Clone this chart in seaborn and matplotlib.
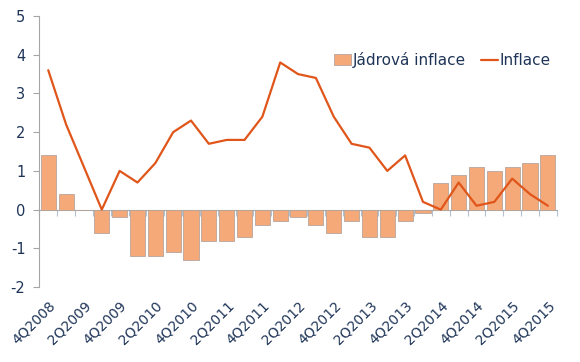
import numpy as np
import pandas as pd
import matplotlib
matplotlib.use("Agg")
import matplotlib.pyplot as plt
import seaborn as sns

# quarters 4Q2008 .. 4Q2015
periods = pd.period_range("2008Q4", "2015Q4", freq="Q")
quarters = [f"{p.quarter}Q{p.year}" for p in periods]

core_inflation = [1.4, 0.4, 0.0, -0.6, -0.2, -1.2, -1.2, -1.1, -1.3, -0.8,
                  -0.8, -0.7, -0.4, -0.3, -0.2, -0.4, -0.6, -0.3, -0.7, -0.7,
                  -0.3, -0.1, 0.7, 0.9, 1.1, 1.0, 1.1, 1.2, 1.4]
inflation = [3.6, 2.2, 1.1, 0.0, 1.0, 0.7, 1.2, 2.0, 2.3, 1.7,
             1.8, 1.8, 2.4, 3.8, 3.5, 3.4, 2.4, 1.7, 1.6, 1.0,
             1.4, 0.2, 0.0, 0.7, 0.1, 0.2, 0.8, 0.4, 0.1]

y_ticks = [-2, -1, 0, 1, 2, 3, 4, 5]

bar_color = "#F5A878"
line_color = "#E0561A"
text_color = "#1F3558"
axis_color = "#A6A6A6"

df = pd.DataFrame({
    "quarter": quarters,
    "pos": np.arange(len(quarters)),
    "core": core_inflation,
    "infl": inflation,
})

sns.set_style("white")
plt.rcParams["font.family"] = ["DejaVu Sans"]

fig = plt.figure(figsize=(5.8, 3.62), dpi=100)
ax = fig.add_axes([0.0678, 0.207, 0.8922, 0.7488])

sns.barplot(data=df, x="quarter", y="core", color=bar_color, saturation=1,
            width=0.85, edgecolor="#B5A59C", linewidth=0.6,
            label="Jádrová inflace", ax=ax)
sns.lineplot(data=df, x="pos", y="infl", color=line_color, linewidth=1.6,
             label="Inflace", ax=ax)

n = len(quarters)
ax.set_xlim(-0.5, n - 0.5)
ax.set_ylim(-2, 5)
ax.set_yticks(y_ticks)
ax.set_yticklabels([str(t) for t in y_ticks], color=text_color, fontsize=10.5)
ax.tick_params(axis="y", direction="out", length=4, color=axis_color,
               width=0.8, pad=6, left=True)

ax.set_xticks(df["pos"][::2])
ax.set_xticklabels(df["quarter"][::2], rotation=45, ha="right",
                   rotation_mode="anchor", color=text_color, fontsize=10)
ax.tick_params(axis="x", length=0, pad=8)
ax.set_xlabel("")
ax.set_ylabel("")

for side in ["top", "right", "bottom"]:
    ax.spines[side].set_visible(False)
ax.spines["left"].set_color(axis_color)
ax.spines["left"].set_linewidth(0.8)

# zero line with category boundary ticks
zero_axis = ax.secondary_xaxis(2 / 7)
zero_axis.set_xticks(np.arange(n + 1) - 0.5)
zero_axis.set_xticklabels([])
zero_axis.tick_params(length=4, color="#B4C0D0", width=0.8, direction="out")
zero_axis.spines["bottom"].set_color(axis_color)
zero_axis.spines["bottom"].set_linewidth(0.8)

handles, labels = ax.get_legend_handles_labels()
order = [labels.index("Jádrová inflace"), labels.index("Inflace")]
leg = ax.legend([handles[i] for i in order], [labels[i] for i in order],
                loc="upper right", bbox_to_anchor=(1.0, 0.89), ncol=2,
                frameon=False, fontsize=11, handlelength=1.1,
                handletextpad=0.1, columnspacing=1.0, borderaxespad=0)
for t in leg.get_texts():
    t.set_color(text_color)

fig.savefig("out.png", dpi=100)
